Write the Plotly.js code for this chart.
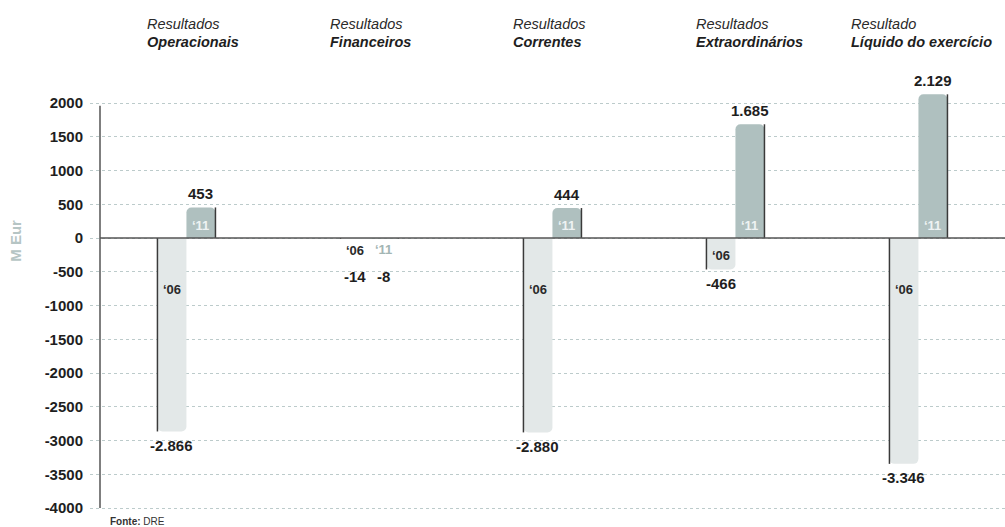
<!DOCTYPE html>
<html>
<head>
<meta charset="utf-8">
<script src="https://cdn.plot.ly/plotly-3.0.1.min.js"></script>
<style>
  html, body { margin: 0; padding: 0; background: #ffffff; }
  #chart { width: 1005px; height: 527px; }
</style>
</head>
<body>
<div id="chart"></div>
<script>
// ---------- data ----------
const categories = ['Operacionais', 'Financeiros', 'Correntes', 'Extraordinários', 'Líquido do exercício'];
const titleTop = ['Resultados', 'Resultados', 'Resultados', 'Resultados', 'Resultado'];
const titleBottom = ['Operacionais', 'Financeiros', 'Correntes', 'Extraordinários', 'Líquido do exercício'];
const yearLabels = ['\u201806', '\u201811'];
const values2006 = [-2866, -14, -2880, -466, -3346];
const values2011 = [453, -8, 444, 1685, 2129];
const tickValues = [2000, 1500, 1000, 500, 0, -500, -1000, -1500, -2000, -2500, -3000, -3500, -4000];
const tickLabels = ['2000', '1500', '1000', '500', '0', '-500', '-1000', '-1500', '-2000', '-2500', '-3000', '-3500', '-4000'];
const axisTitle = 'M Eur';
const sourceNote = '<b>Fonte:</b> DRE';

// ---------- style ----------
const W = 1005, H = 527;
const M = { l: 90, r: 0, t: 74, b: 8 };
const yRange = [-4163, 2430];
const xRange = [-0.527, 4.473];
const plotW = W - M.l - M.r;
const plotH = H - M.t - M.b;
const pxPerUnit = plotH / (yRange[1] - yRange[0]);
const half = 0.1585;           // one bar width in category units
const col06 = '#e3e8e8';
const col11 = '#afc0bf';
const edgeCol = '#3a3a3a';
const txtCol = '#1e1e1e';
const FONT = '"Liberation Sans", Arial, sans-serif';

function fmt(v) {
  const s = Math.abs(v).toString().replace(/\B(?=(\d{3})+(?!\d))/g, '.');
  return (v < 0 ? '-' : '') + s;
}

const traces = [
  { type: 'bar', x: categories, y: values2006, name: yearLabels[0],
    marker: { color: col06, line: { width: 0 } }, hoverinfo: 'skip', cliponaxis: false },
  { type: 'bar', x: categories, y: values2011, name: yearLabels[1],
    marker: { color: col11, line: { width: 0 } }, hoverinfo: 'skip', cliponaxis: false }
];

const shapes = [];
const annotations = [];

// dark edge lines on bars
categories.forEach((c, i) => {
  shapes.push({ type: 'line', xref: 'x', yref: 'y', x0: i - half, x1: i - half, y0: 0, y1: values2006[i],
    line: { color: edgeCol, width: 1.5 }, layer: 'above' });
  shapes.push({ type: 'line', xref: 'x', yref: 'y', x0: i + half, x1: i + half, y0: 0, y1: values2011[i],
    line: { color: edgeCol, width: 1.5 }, layer: 'above' });
});
// zero line and y axis line
const axX = 10 / plotW;
shapes.push({ type: 'line', xref: 'paper', yref: 'y', x0: axX, x1: 1, y0: 0, y1: 0,
  line: { color: '#555555', width: 1.5 }, layer: 'above' });
shapes.push({ type: 'line', xref: 'paper', yref: 'y', x0: axX, x1: axX,
  y0: 1960, y1: tickValues[tickValues.length - 1],
  line: { color: '#555555', width: 1.5 }, layer: 'above' });

// value labels and year tags
function addLabels(vals, dx, yearIdx) {
  vals.forEach((v, i) => {
    const barPx = Math.abs(v) * pxPerUnit;
    const ext = Math.max(barPx, 24);
    const sgn = v < 0 ? -1 : 1;
    annotations.push({ xref: 'x', yref: 'y', x: i + dx, y: 0, yshift: sgn * (ext + 14),
      text: '<b>' + fmt(v) + '</b>', showarrow: false, xanchor: 'center', yanchor: 'middle',
      font: { family: FONT, size: 15, color: txtCol } });
    let tagShift, tagCol;
    if (yearIdx === 0) {
      tagShift = sgn * Math.min(51, Math.max(12, barPx - 14));
      tagCol = '#2a2a2a';
    } else {
      tagShift = sgn * (sgn > 0 ? 13 : 11);
      tagCol = barPx > 20 ? '#eef3f3' : '#a3b5b4';
    }
    annotations.push({ xref: 'x', yref: 'y', x: i + dx, y: 0, yshift: tagShift,
      text: '<b>' + yearLabels[yearIdx] + '</b>', showarrow: false, xanchor: 'center', yanchor: 'middle',
      font: { family: FONT, size: 13, color: tagCol } });
  });
}
addLabels(values2006, -half / 2, 0);
addLabels(values2011, half / 2, 1);

// column titles
const last = categories.length - 1;
categories.forEach((c, i) => {
  const x = i === last ? i - 0.377 : i - 0.229;
  annotations.push({ xref: 'x', yref: 'paper', x: x, y: 1, xanchor: 'left', yanchor: 'middle', yshift: M.t - 24,
    text: '<i>' + titleTop[i] + '</i>', showarrow: false, align: 'left',
    font: { family: FONT, size: 14.5, color: '#2a2a2a' } });
  annotations.push({ xref: 'x', yref: 'paper', x: x, y: 1, xanchor: 'left', yanchor: 'middle', yshift: M.t - 42,
    text: '<b><i>' + titleBottom[i] + '</i></b>', showarrow: false, align: 'left',
    font: { family: FONT, size: 14.5, color: '#1e1e1e' } });
});

// axis title
annotations.push({ xref: 'paper', yref: 'y', x: (16 - M.l) / plotW, y: -40, xanchor: 'center', yanchor: 'middle',
  text: '<b>' + axisTitle + '</b>', textangle: -90, showarrow: false,
  font: { family: FONT, size: 15, color: '#b6c5c4' } });

// source
annotations.push({ xref: 'paper', yref: 'paper', x: (108 - M.l) / plotW, y: 0, xanchor: 'left', yanchor: 'top',
  yshift: 5, text: sourceNote, showarrow: false,
  font: { family: FONT, size: 10, color: '#333333' } });

const layout = {
  width: W, height: H,
  margin: M,
  paper_bgcolor: '#ffffff', plot_bgcolor: '#ffffff',
  showlegend: false,
  barmode: 'group',
  bargap: 1 - 2 * half,
  bargroupgap: 0,
  barcornerradius: 5,
  xaxis: { type: 'category', range: xRange, showgrid: false, zeroline: false, showticklabels: false,
    showline: false, ticks: '', fixedrange: true },
  yaxis: { range: yRange, tickvals: tickValues, ticktext: tickLabels.map(t => '<b>' + t + '</b>'),
    showgrid: true, gridcolor: '#bccbcb', gridwidth: 1, griddash: '3px,3px',
    zeroline: false, showline: false, ticks: '', ticklabelstandoff: 6,
    tickfont: { family: FONT, size: 15, color: txtCol }, fixedrange: true },
  shapes: shapes,
  annotations: annotations,
  font: { family: FONT }
};

Plotly.newPlot('chart', traces, layout, { displayModeBar: false, staticPlot: true });
</script>
</body>
</html>
